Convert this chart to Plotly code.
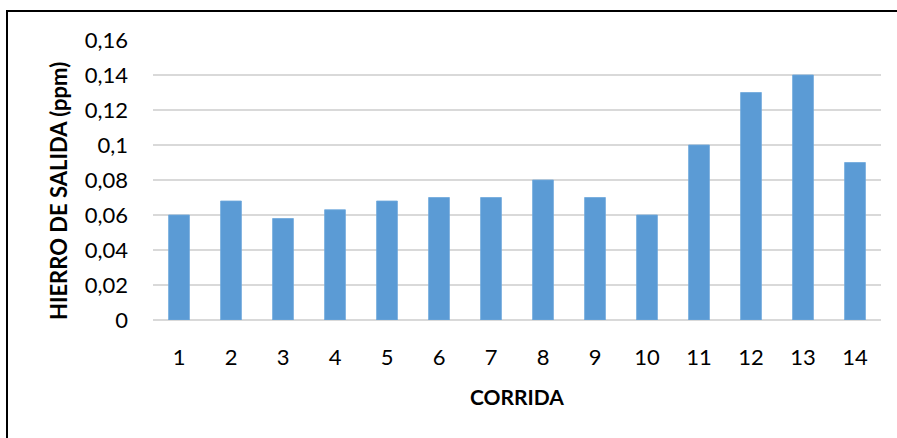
import plotly.graph_objects as go

# Iron concentration at the outlet for each run
corridas = ["1", "2", "3", "4", "5", "6", "7", "8", "9", "10", "11", "12", "13", "14"]
hierro_salida = [0.06, 0.068, 0.058, 0.063, 0.068, 0.07, 0.07, 0.08, 0.07, 0.06, 0.10, 0.13, 0.14, 0.09]

y_ticks = [0, 0.02, 0.04, 0.06, 0.08, 0.10, 0.12, 0.14, 0.16]
y_tick_labels = ["0", "0,02", "0,04", "0,06", "0,08", "0,1", "0,12", "0,14", "0,16"]

W, H = 897, 438
L, R, T, B = 153, 16, 40, 118
PW, PH = W - L - R, H - T - B


def px_x(px):
    return (px - L) / PW


def px_y(py):
    return (H - B - py) / PH


FONT = "Lato, Calibri, sans-serif"

fig = go.Figure(
    go.Bar(
        x=corridas,
        y=hierro_salida,
        marker=dict(color="#5B9BD5", line=dict(color="#6FA8DC", width=0.8)),
    )
)

fig.update_layout(
    width=W,
    height=H,
    margin=dict(l=L, r=R, t=T, b=B),
    paper_bgcolor="white",
    plot_bgcolor="white",
    bargap=0.6,
    showlegend=False,
    font=dict(family=FONT, size=22, color="#000000"),
)

fig.update_xaxes(
    type="category",
    showgrid=False,
    showline=False,
    ticks="",
    ticklabelstandoff=22,
    tickfont=dict(family=FONT, size=22, color="#000000"),
)

fig.update_yaxes(
    range=[0, 0.16],
    tickvals=y_ticks,
    ticktext=y_tick_labels,
    showgrid=True,
    gridcolor="#D9D9D9",
    gridwidth=1.5,
    zeroline=True,
    zerolinecolor="#D9D9D9",
    zerolinewidth=1.5,
    showline=False,
    ticks="",
    ticklabelstandoff=24,
    tickfont=dict(family=FONT, size=22, color="#000000"),
)

# Axis titles
fig.add_annotation(
    text="<b>CORRIDA</b>",
    x=px_x(517), y=px_y(396),
    xref="paper", yref="paper",
    xanchor="center", yanchor="middle",
    showarrow=False,
    font=dict(family=FONT, size=21, color="#000000"),
)
fig.add_annotation(
    text="<b>HIERRO DE SALIDA (ppm)</b>",
    x=px_x(58), y=px_y(191),
    xref="paper", yref="paper",
    xanchor="center", yanchor="middle",
    textangle=-90,
    showarrow=False,
    font=dict(family=FONT, size=22, color="#000000"),
)

# Frame lines on the left and top
fig.add_shape(type="line", xref="paper", yref="paper",
              x0=px_x(7), x1=px_x(7), y0=px_y(11), y1=px_y(H + 2),
              line=dict(color="#000000", width=2))
fig.add_shape(type="line", xref="paper", yref="paper",
              x0=px_x(6), x1=px_x(W + 2), y0=px_y(11), y1=px_y(11),
              line=dict(color="#000000", width=2))

fig.write_html("out.html")
